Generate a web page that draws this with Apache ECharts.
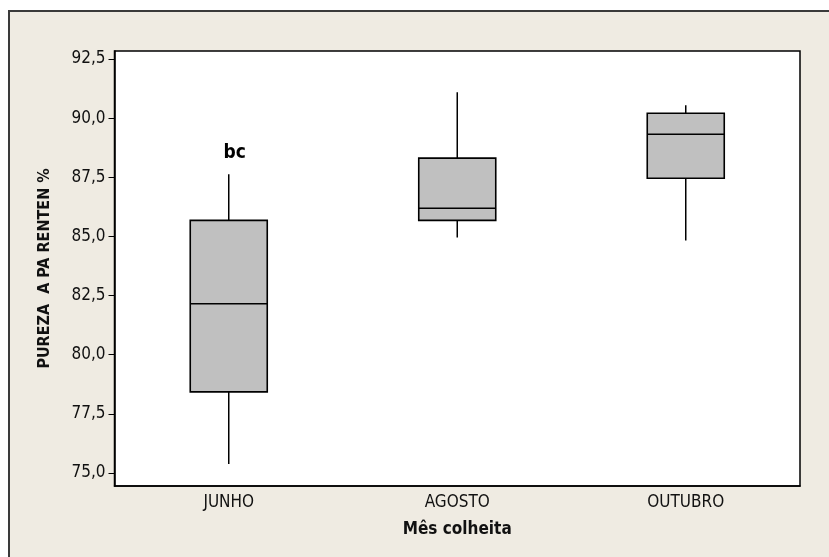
<!DOCTYPE html>
<html>
<head>
<meta charset="utf-8">
<script src="https://cdn.jsdelivr.net/npm/echarts@6/dist/echarts.min.js"></script>
<style>
html,body{margin:0;padding:0;background:#ffffff;}
#chart{width:829px;height:557px;}
</style>
</head>
<body>
<div id="chart"></div>
<script>
// Data
var categories = ['JUNHO', 'AGOSTO', 'OUTUBRO'];
var whiskerLow = [75.38, 84.96, 84.83];
var q1 = [78.43, 85.68, 87.46];
var median = [82.16, 86.19, 89.32];
var q3 = [85.68, 88.31, 90.21];
var whiskerHigh = [87.63, 91.10, 90.55];
var annotations = ['bc', '', ''];
var yTicks = [75, 77.5, 80, 82.5, 85, 87.5, 90, 92.5];

var FONT = '"DejaVu Sans Condensed", "Liberation Sans Narrow", "DejaVu Sans", sans-serif';

var boxData = categories.map(function (c, i) {
  return [i, whiskerLow[i], q1[i], median[i], q3[i], whiskerHigh[i]];
});

var chart = echarts.init(document.getElementById('chart'));
chart.setOption({
  animation: false,
  backgroundColor: '#ffffff',
  graphic: [{
    type: 'rect',
    z: -10,
    silent: true,
    shape: { x: 9, y: 11, width: 900, height: 600 },
    style: { fill: '#EFEBE2', stroke: '#3a3a3a', lineWidth: 2 }
  }],
  grid: {
    left: 114.5, right: 29, top: 51, bottom: 71,
    show: true, backgroundColor: '#ffffff', borderColor: '#000000', borderWidth: 1.5,
    containLabel: false
  },
  xAxis: {
    type: 'category',
    data: categories,
    boundaryGap: true,
    axisLine: { lineStyle: { color: '#000', width: 1.5 } },
    axisTick: { alignWithLabel: true, length: 6, lineStyle: { color: '#000' } },
    axisLabel: { color: '#111', fontFamily: FONT, fontSize: 17, margin: 8 },
    name: 'Mês colheita',
    nameLocation: 'middle',
    nameGap: 35,
    nameTextStyle: { color: '#111', fontFamily: FONT, fontSize: 17, fontWeight: 'bold' }
  },
  yAxis: {
    type: 'value',
    min: 74.45,
    max: 92.84,
    splitLine: { show: false },
    axisLine: { show: true, lineStyle: { color: '#000', width: 1.5 } },
    axisTick: { show: true, length: 6, lineStyle: { color: '#000' }, customValues: yTicks },
    axisLabel: {
      color: '#111', fontFamily: FONT, fontSize: 17, margin: 9,
      customValues: yTicks,
      formatter: function (v) { return v.toFixed(1).replace('.', ','); }
    },
    name: 'PUREZA  A PA RENTEN %',
    nameLocation: 'middle',
    nameGap: 62,
    nameTextStyle: { color: '#111', fontFamily: FONT, fontSize: 16, fontWeight: 'bold' }
  },
  series: [{
    type: 'custom',
    data: boxData,
    encode: { x: 0, y: [1, 2, 3, 4, 5] },
    renderItem: function (params, api) {
      var idx = api.value(0);
      var pLow = api.coord([idx, api.value(1)]);
      var pQ1 = api.coord([idx, api.value(2)]);
      var pMed = api.coord([idx, api.value(3)]);
      var pQ3 = api.coord([idx, api.value(4)]);
      var pHigh = api.coord([idx, api.value(5)]);
      var bw = api.size([1, 0])[0] * 0.337;
      var x = pQ1[0];
      var lineStyle = { stroke: '#000', lineWidth: 1.5 };
      var children = [
        { type: 'line', shape: { x1: x, y1: pHigh[1], x2: x, y2: pQ3[1] }, style: lineStyle },
        { type: 'line', shape: { x1: x, y1: pQ1[1], x2: x, y2: pLow[1] }, style: lineStyle },
        { type: 'rect', shape: { x: x - bw / 2, y: pQ3[1], width: bw, height: pQ1[1] - pQ3[1] },
          style: { fill: '#C0C0C0', stroke: '#000', lineWidth: 1.6 } },
        { type: 'line', shape: { x1: x - bw / 2, y1: pMed[1], x2: x + bw / 2, y2: pMed[1] }, style: lineStyle }
      ];
      var ann = annotations[params.dataIndex];
      if (ann) {
        children.push({
          type: 'text',
          style: {
            text: ann, x: x + 6, y: pHigh[1] - 21,
            align: 'center', verticalAlign: 'middle',
            font: 'bold 19px ' + FONT, fill: '#000'
          }
        });
      }
      return { type: 'group', children: children };
    }
  }]
});
</script>
</body>
</html>
